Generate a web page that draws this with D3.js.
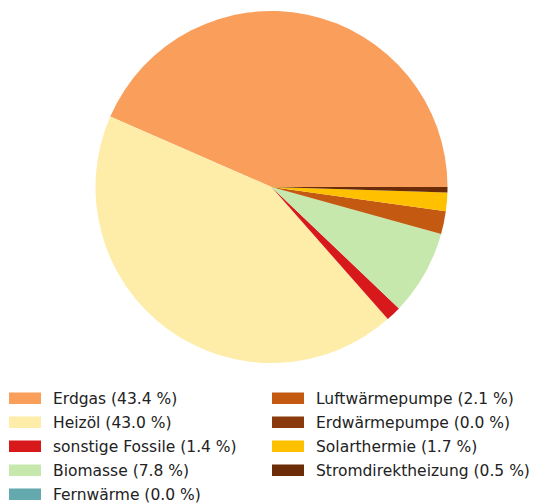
<!DOCTYPE html>
<html>
<head>
<meta charset="utf-8">
<script src="https://cdn.jsdelivr.net/npm/d3@7"></script>
<style>
  html, body { margin: 0; padding: 0; background: #fff; }
  svg { display: block; }
</style>
</head>
<body>
<svg id="chart" width="535" height="503"></svg>
<script>
// Heating energy sources and their shares (percent)
const categories = ["Erdgas", "Heizöl", "sonstige Fossile", "Biomasse", "Fernwärme",
                    "Luftwärmepumpe", "Erdwärmepumpe", "Solarthermie", "Stromdirektheizung"];
const shares = [43.4, 43.0, 1.4, 7.8, 0.0, 2.1, 0.0, 1.7, 0.5];
const colors = ["#f99e5b", "#feeca9", "#d7191c", "#c7e8ad", "#63a9ad",
                "#c45a11", "#8b3a0e", "#ffc000", "#6b2c07"];

const svg = d3.select("#chart");
const cx = 271.5, cy = 187, radius = 176;

const data = categories.map((c, i) => ({ name: c, value: shares[i], color: colors[i] }));

// Slices run counter-clockwise starting at 3 o'clock
const pie = d3.pie()
  .value(d => d.value)
  .sort(null)
  .startAngle(Math.PI / 2)
  .endAngle(Math.PI / 2 - 2 * Math.PI);

const arc = d3.arc().innerRadius(0).outerRadius(radius);

svg.append("g")
  .attr("transform", `translate(${cx},${cy})`)
  .selectAll("path")
  .data(pie(data))
  .join("path")
  .attr("d", arc)
  .attr("fill", d => d.data.color);

// Legend in two columns below the pie
const rowsPerCol = 5;
const colX = [9, 272];
const rowY0 = 398.5, rowStep = 24;
const legend = svg.append("g")
  .attr("font-family", "DejaVu Sans, sans-serif")
  .attr("font-size", 15.5)
  .attr("fill", "#222");

data.forEach((d, i) => {
  const col = Math.floor(i / rowsPerCol);
  const row = i % rowsPerCol;
  const x = colX[col], y = rowY0 + row * rowStep;
  legend.append("rect")
    .attr("x", x).attr("y", y - 6)
    .attr("width", 32).attr("height", 11.5)
    .attr("fill", d.color);
  legend.append("text")
    .attr("x", x + 44).attr("y", y)
    .attr("dy", "0.35em")
    .text(`${d.name} (${d.value.toFixed(1)} %)`);
});
</script>
</body>
</html>
